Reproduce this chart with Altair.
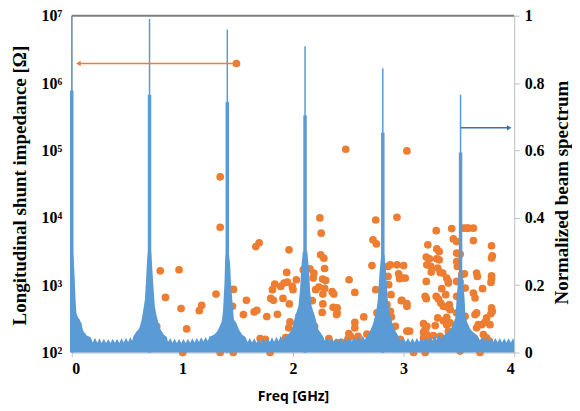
import altair as alt
import pandas as pd

# ---------------- data ----------------
# Orange dots: (frequency GHz, longitudinal shunt impedance Ohm)
dot_points = [
    (0.768, 245), (0.80, 1630), (0.847, 658), (0.97, 1690), (0.988, 448), (1.003, 100),
    (1.039, 224), (1.153, 418), (1.174, 501), (1.304, 738), (1.342, 40600), (1.342, 7230),
    (1.342, 100), (1.453, 484), (1.462, 863), (1.46, 100), (1.489, 1950000), (1.552, 365),
    (1.579, 594), (1.649, 400), (1.673, 423), (1.664, 3730), (1.694, 4240), (1.703, 161),
    (1.750, 156), (1.763, 341), (1.793, 100), (1.799, 635), (1.814, 855), (1.823, 594),
    (1.835, 1038), (1.859, 369), (1.889, 957), (1.910, 635), (1.919, 1074), (1.934, 166),
    (1.943, 1542), (1.949, 1112), (1.961, 232), (1.964, 3342), (1.967, 525), (1.973, 284),
    (1.994, 957), (2.0, 855), (2.030, 1202), (2.054, 344), (2.093, 1690), (2.153, 1750),
    (2.174, 587), (2.183, 1274), (2.189, 1510), (2.195, 245), (2.205, 855), (2.234, 938),
    (2.243, 9930), (2.250, 2818), (2.255, 5900), (2.264, 394), (2.268, 1230), (2.270, 738),
    (2.270, 525), (2.279, 2512), (2.286, 1766), (2.286, 893), (2.295, 1175), (2.324, 161),
    (2.354, 798), (2.363, 468), (2.369, 738), (2.394, 365), (2.399, 458), (2.399, 386),
    (2.399, 139), (2.435, 142), (2.477, 104000), (2.498, 160), (2.505, 191), (2.507, 1202),
    (2.520, 174), (2.559, 780), (2.559, 281), (2.559, 232), (2.580, 160), (2.588, 174),
    (2.640, 337), (2.669, 187), (2.714, 1954), (2.723, 4700), (2.748, 9270), (2.748, 855),
    (2.754, 4090), (2.759, 386), (2.850, 513), (2.859, 1892), (2.859, 1346), (2.865, 1014),
    (2.880, 2004), (2.880, 408), (2.886, 721), (2.889, 337), (2.925, 245), (2.940, 10160),
    (2.940, 2004), (2.940, 147), (2.955, 1476), (2.964, 1245), (2.970, 156), (2.979, 587),
    (2.985, 594), (2.985, 1274), (3.0, 1954), (3.015, 1274), (3.030, 98400), (3.030, 531),
    (3.030, 484), (3.030, 207), (3.054, 207), (3.090, 100),
    (3.180, 268), (3.180, 200), (3.180, 165), (3.195, 681), (3.195, 219), (3.195, 100),
    (3.205, 2606), (3.205, 1135), (3.205, 630), (3.210, 2004), (3.210, 245), (3.210, 185),
    (3.219, 3963), (3.225, 147), (3.234, 2460), (3.246, 1892), (3.250, 1563), (3.270, 178),
    (3.286, 251), (3.295, 6442), (3.295, 681), (3.300, 3451), (3.300, 2460), (3.309, 1791),
    (3.309, 326), (3.315, 622), (3.322, 3155), (3.322, 2377), (3.331, 1542), (3.331, 174),
    (3.336, 543), (3.345, 885), (3.354, 1510), (3.360, 484), (3.360, 297), (3.376, 156),
    (3.381, 721), (3.390, 1274), (3.390, 333), (3.390, 259), (3.399, 468), (3.405, 1135),
    (3.405, 1074), (3.405, 207), (3.414, 513), (3.421, 432), (3.421, 275), (3.435, 6902),
    (3.450, 4853), (3.450, 156), (3.480, 4426), (3.480, 2985), (3.480, 2244), (3.480, 1135),
    (3.480, 681), (3.480, 386), (3.486, 1892), (3.511, 2884), (3.511, 1112), (3.511, 105),
    (3.525, 1426), (3.541, 6998), (3.550, 1476), (3.556, 906), (3.556, 344), (3.570, 6998),
    (3.586, 6998), (3.631, 6998), (3.631, 4581), (3.631, 764), (3.646, 644), (3.646, 365),
    (3.660, 1510), (3.660, 386), (3.660, 232), (3.667, 1346), (3.676, 259), (3.691, 100),
    (3.706, 259), (3.714, 885), (3.721, 185), (3.735, 281), (3.750, 326), (3.750, 165),
    (3.775, 147), (3.781, 259), (3.790, 1096), (3.790, 378), (3.795, 3828), (3.795, 2518),
    (3.795, 1377), (3.795, 1230), (3.795, 458), (3.802, 2723), (3.802, 408),
]

# Blue beam spectrum envelope: (frequency GHz, normalized amplitude)
spectrum_points = [
    (0.000, 0.30), (0.010, 0.30), (0.018, 0.275), (0.027, 0.216), (0.035, 0.15), (0.042, 0.118),
    (0.050, 0.110), (0.057, 0.104), (0.065, 0.100), (0.072, 0.098), (0.080, 0.090), (0.087, 0.089),
    (0.095, 0.075), (0.100, 0.068), (0.110, 0.060), (0.120, 0.058), (0.130, 0.052), (0.140, 0.050),
    (0.150, 0.048), (0.160, 0.047), (0.170, 0.046),
    (0.19, 0.030), (0.21, 0.044), (0.23, 0.029), (0.25, 0.042), (0.27, 0.028), (0.29, 0.041),
    (0.31, 0.028), (0.33, 0.040), (0.35, 0.028), (0.37, 0.041), (0.39, 0.029), (0.41, 0.040),
    (0.43, 0.028), (0.45, 0.042), (0.47, 0.030), (0.49, 0.044), (0.51, 0.031), (0.53, 0.046),
    (0.545, 0.034),
    (0.557, 0.048), (0.587, 0.063), (0.603, 0.068), (0.617, 0.078), (0.632, 0.098), (0.646, 0.125),
    (0.661, 0.157), (0.670, 0.207), (0.681, 0.275), (0.688, 0.30),
    (0.718, 0.30), (0.723, 0.275), (0.738, 0.196), (0.751, 0.137), (0.765, 0.112), (0.783, 0.088),
    (0.803, 0.068), (0.833, 0.053), (0.860, 0.046),
    (0.87, 0.031), (0.89, 0.043), (0.91, 0.029), (0.93, 0.041), (0.95, 0.028), (0.97, 0.040),
    (0.99, 0.028), (1.01, 0.040), (1.03, 0.028), (1.05, 0.041), (1.07, 0.029), (1.09, 0.042),
    (1.11, 0.030), (1.13, 0.043), (1.15, 0.031), (1.17, 0.045), (1.19, 0.033), (1.21, 0.046),
    (1.23, 0.034), (1.245, 0.048),
    (1.256, 0.048), (1.286, 0.053), (1.316, 0.063), (1.338, 0.078), (1.356, 0.093), (1.367, 0.122),
    (1.381, 0.21), (1.386, 0.27), (1.391, 0.29),
    (1.421, 0.29), (1.431, 0.266), (1.439, 0.21), (1.451, 0.157), (1.466, 0.098), (1.487, 0.088),
    (1.511, 0.068), (1.541, 0.053), (1.570, 0.046),
    (1.59, 0.031), (1.61, 0.043), (1.63, 0.030), (1.65, 0.042), (1.67, 0.029), (1.69, 0.041),
    (1.71, 0.029), (1.73, 0.042), (1.75, 0.030), (1.77, 0.043), (1.79, 0.031), (1.81, 0.045),
    (1.83, 0.032), (1.85, 0.047), (1.87, 0.034), (1.89, 0.050), (1.91, 0.036), (1.93, 0.052),
    (1.949, 0.050), (1.989, 0.068), (2.019, 0.107), (2.049, 0.137), (2.064, 0.186), (2.073, 0.246),
    (2.089, 0.30),
    (2.129, 0.30), (2.145, 0.246), (2.154, 0.186), (2.169, 0.137), (2.199, 0.107), (2.229, 0.068),
    (2.269, 0.050),
    (2.29, 0.034), (2.31, 0.046), (2.33, 0.032), (2.35, 0.044), (2.37, 0.031), (2.39, 0.043),
    (2.41, 0.030), (2.43, 0.043), (2.45, 0.031), (2.47, 0.044), (2.49, 0.031), (2.51, 0.045),
    (2.53, 0.032), (2.55, 0.046), (2.57, 0.034), (2.59, 0.048), (2.61, 0.036), (2.63, 0.050),
    (2.65, 0.038),
    (2.670, 0.050), (2.692, 0.060), (2.722, 0.083), (2.752, 0.122), (2.767, 0.157), (2.782, 0.236),
    (2.797, 0.29),
    (2.827, 0.29), (2.842, 0.236), (2.857, 0.157), (2.872, 0.122), (2.902, 0.083), (2.932, 0.060),
    (2.960, 0.045),
    (2.98, 0.032), (3.00, 0.044), (3.02, 0.031), (3.04, 0.043), (3.06, 0.030), (3.08, 0.042),
    (3.10, 0.030), (3.12, 0.043), (3.14, 0.031), (3.16, 0.044), (3.18, 0.032), (3.20, 0.045),
    (3.22, 0.033), (3.24, 0.047), (3.26, 0.035), (3.28, 0.050), (3.30, 0.037), (3.32, 0.055),
    (3.34, 0.040),
    (3.360, 0.050), (3.400, 0.060), (3.425, 0.068), (3.455, 0.090), (3.470, 0.107), (3.480, 0.167),
    (3.495, 0.22), (3.505, 0.25),
    (3.525, 0.25), (3.535, 0.22), (3.550, 0.167), (3.560, 0.107), (3.575, 0.090), (3.605, 0.068),
    (3.630, 0.060), (3.670, 0.050),
    (3.69, 0.036), (3.71, 0.047), (3.73, 0.034), (3.75, 0.045), (3.77, 0.032), (3.79, 0.044),
    (3.81, 0.031), (3.83, 0.043), (3.85, 0.030), (3.87, 0.043), (3.89, 0.030), (3.91, 0.042),
    (3.93, 0.030), (3.95, 0.042), (3.97, 0.030), (3.99, 0.042), (4.00, 0.035),
]

# Harmonic lines of the beam spectrum
peak_freq = [0.0, 0.703, 1.406, 2.109, 2.812, 3.515]
peak_body = [0.778, 0.765, 0.744, 0.704, 0.653, 0.594]
peak_tip = [1.0, 0.99, 0.959, 0.909, 0.844, 0.765]

# Annotation arrows
orange_arrow_x = [1.489, 0.06]
orange_arrow_y = 1950000
blue_arrow_x = [3.517, 3.955]
blue_arrow_y = 0.667

x_ticks = [0, 1, 2, 3, 4]
left_ticks = [100, 1000, 10000, 100000, 1000000, 10000000]
right_ticks = [0, 0.2, 0.4, 0.6, 0.8, 1.0]

ORANGE = "#ed7d31"
BLUE = "#5b9bd5"
SERIF = "Liberation Serif"

# ---------------- tables ----------------
dots_df = pd.DataFrame(dot_points, columns=["f", "z"])
spec_df = pd.DataFrame(spectrum_points, columns=["f", "v"])
peaks_df = pd.DataFrame({"f": peak_freq, "body": peak_body, "tip": peak_tip, "lo": [0.0] * len(peak_freq)})
oarrow_df = pd.DataFrame({"x1": [orange_arrow_x[0]], "x2": [orange_arrow_x[1]], "y": [orange_arrow_y]})
barrow_df = pd.DataFrame({"x1": [blue_arrow_x[0]], "x2": [blue_arrow_x[1]], "y": [blue_arrow_y]})

W, H = 444, 338
xscale = alt.Scale(domain=[0, 4], nice=False, zero=False)
logscale = alt.Scale(type="log", domain=[100, 10000000], nice=False)
linscale = alt.Scale(domain=[0, 1], nice=False)

x_axis = alt.Axis(
    values=x_ticks, title="Freq [GHz]", grid=False,
    domainColor="#bfbfbf", tickColor="#bfbfbf", tickSize=4,
    labelFont=SERIF, labelFontWeight="bold", labelFontSize=16, labelColor="black", labelPadding=4,
    titleFont="Open Sans", titleFontWeight="bold", titleFontSize=14, titleColor="black",
    titleX=W / 2, titleY=44, titleBaseline="middle", titleAlign="center",
)

sup_expr = ("datum.value == 100 ? '10²' : datum.value == 1000 ? '10³' : datum.value == 10000 ? '10⁴' : "
            "datum.value == 100000 ? '10⁵' : datum.value == 1000000 ? '10⁶' : '10⁷'")

left_axis = alt.Axis(
    orient="left", values=left_ticks, labelExpr=sup_expr, grid=False, ticks=False,
    domainColor="#bfbfbf", labelFont=SERIF, labelFontWeight="bold", labelFontSize=16,
    labelColor="black", labelPadding=10,
    title="Longitudinal shunt impedance [Ω]", titleFont=SERIF, titleFontWeight="bold",
    titleFontSize=19, titleColor="black", titleAngle=270, titleX=-52, titleY=170,
    titleAlign="center", titleBaseline="middle",
)

right_axis = alt.Axis(
    orient="right", values=right_ticks, labelExpr="toString(round(datum.value * 10) / 10)",
    grid=False, tickColor="#bfbfbf", tickSize=5, domainColor="#bfbfbf",
    labelFont=SERIF, labelFontWeight="bold", labelFontSize=16, labelColor="black", labelPadding=5,
    title="Normalized beam spectrum", titleFont=SERIF, titleFontWeight="bold",
    titleFontSize=19, titleColor="black", titleAngle=270, titleX=47, titleY=177,
    titleAlign="center", titleBaseline="middle",
)

dots = alt.Chart(dots_df).mark_circle(size=60, color=ORANGE, opacity=1).encode(
    x=alt.X("f:Q", scale=xscale, axis=x_axis),
    y=alt.Y("z:Q", scale=logscale, axis=left_axis),
)

area = alt.Chart(spec_df).mark_area(color=BLUE, opacity=1, interpolate="linear").encode(
    x=alt.X("f:Q", scale=xscale, axis=x_axis),
    y=alt.Y("v:Q", scale=linscale, axis=right_axis),
)
body = alt.Chart(peaks_df).mark_rule(color=BLUE, strokeWidth=3.5).encode(
    x=alt.X("f:Q", scale=xscale, axis=x_axis),
    y=alt.Y("lo:Q", scale=linscale, axis=right_axis),
    y2="body:Q",
)
tip = alt.Chart(peaks_df).mark_rule(color=BLUE, strokeWidth=1.5).encode(
    x=alt.X("f:Q", scale=xscale, axis=x_axis),
    y=alt.Y("lo:Q", scale=linscale, axis=right_axis),
    y2="tip:Q",
)
blue_line = alt.Chart(barrow_df).mark_rule(color="#2e75b6", strokeWidth=1.5).encode(
    x=alt.X("x1:Q", scale=xscale, axis=x_axis), x2="x2:Q",
    y=alt.Y("y:Q", scale=linscale, axis=right_axis),
)
blue_head = alt.Chart(barrow_df).mark_point(shape="triangle-right", filled=True, size=28,
                                            color="#2e75b6", opacity=1).encode(
    x=alt.X("x2:Q", scale=xscale, axis=x_axis),
    y=alt.Y("y:Q", scale=linscale, axis=right_axis),
)
spectrum = alt.layer(area, body, tip, blue_line, blue_head)

orange_line = alt.Chart(oarrow_df).mark_rule(color=ORANGE, strokeWidth=1.5).encode(
    x=alt.X("x1:Q", scale=xscale, axis=x_axis), x2="x2:Q",
    y=alt.Y("y:Q", scale=logscale, axis=None),
)
orange_head = alt.Chart(oarrow_df).mark_point(shape="triangle-left", filled=True, size=28,
                                              color=ORANGE, opacity=1).encode(
    x=alt.X("x2:Q", scale=xscale, axis=x_axis),
    y=alt.Y("y:Q", scale=logscale, axis=None),
)
orange_arrow = alt.layer(orange_line, orange_head)

frame = alt.Chart(pd.DataFrame({"k": [0]})).mark_rule(color="#7f7f7f", strokeWidth=2).encode(
    x=alt.value(0), x2=alt.value(W), y=alt.value(0)
)

chart = (
    alt.layer(dots, spectrum, orange_arrow, frame)
    .resolve_scale(y="independent")
    .properties(
        width=W, height=H,
        autosize=alt.AutoSizeParams(type="none"),
        padding={"left": 64, "top": 7, "right": 58, "bottom": 58},
        background="white",
    )
    .configure_view(stroke=None)
)

chart.save("out.html", embed_options={"renderer": "svg", "actions": False})
